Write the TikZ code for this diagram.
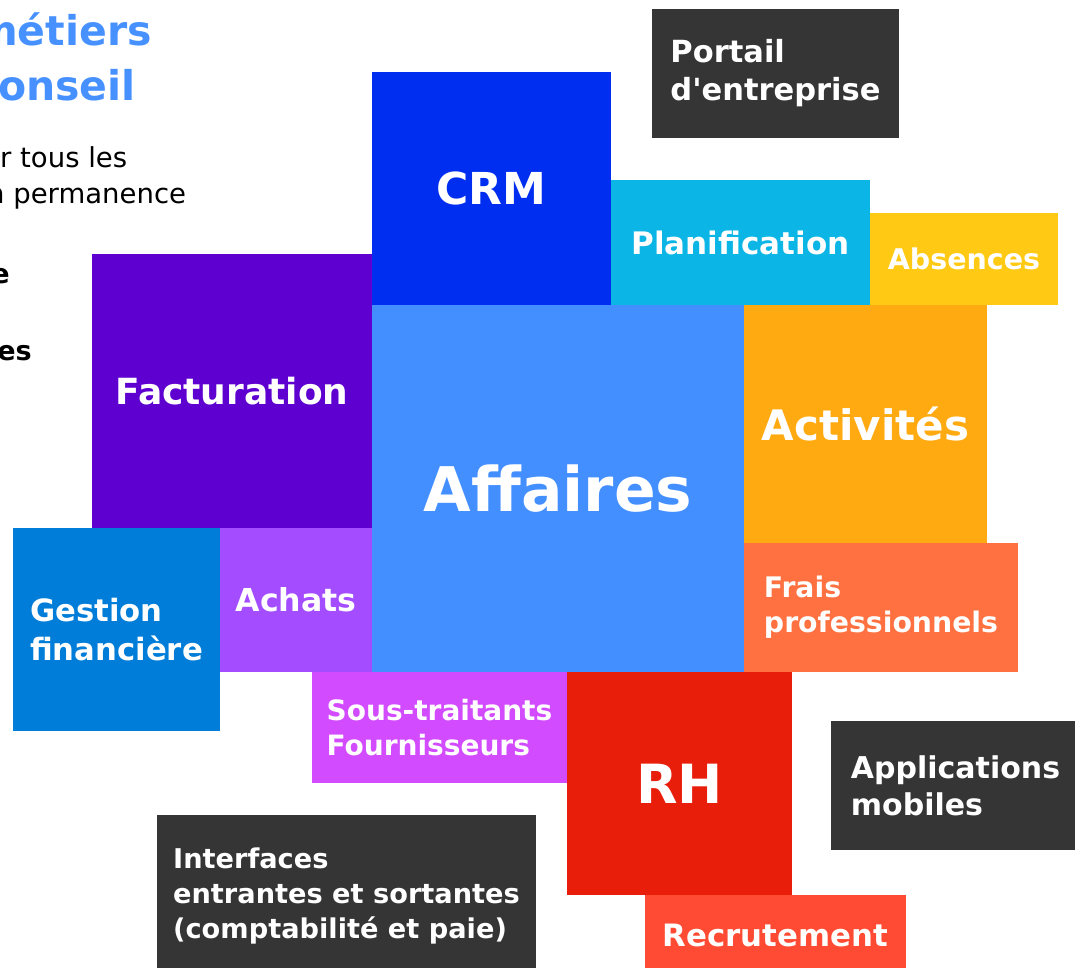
\documentclass[tikz,border=0pt]{standalone}
\usepackage{fontspec}
\setmainfont{DejaVu Sans}
\usepackage{tikz}

\definecolor{titleblue}{RGB}{70,145,255}
\definecolor{crmblue}{RGB}{0,46,240}
\definecolor{planifcyan}{RGB}{11,181,230}
\definecolor{absyellow}{RGB}{255,201,20}
\definecolor{darkgrey}{RGB}{53,53,53}
\definecolor{factuviolet}{RGB}{94,0,208}
\definecolor{affblue}{RGB}{68,143,255}
\definecolor{actorange}{RGB}{255,170,17}
\definecolor{fraisorange}{RGB}{255,113,64}
\definecolor{gestblue}{RGB}{0,125,216}
\definecolor{achatsviolet}{RGB}{164,76,255}
\definecolor{sousmagenta}{RGB}{210,75,255}
\definecolor{rhred}{RGB}{232,30,10}
\definecolor{recrutred}{RGB}{255,75,51}

\newcommand{\fsz}[2]{\fontsize{#1}{#2}\selectfont}

\tikzset{
  tile/.style={rectangle, inner sep=0pt, outer sep=0pt, text=white,
               font=\bfseries, align=left},
  sidetext/.style={inner sep=0pt, anchor=base west}
}

\begin{document}
\begin{tikzpicture}[x=1pt,y={(0pt,-1pt)}]
  \clip (0,0) rectangle (1075,967);

  % text on the left
  \draw (-25,45)  node (title1) [sidetext, text=titleblue, font=\bfseries\fsz{41}{48}] {métiers};
  \draw (-2,100)  node (title2) [sidetext, text=titleblue, font=\bfseries\fsz{41}{48}] {onseil};
  \draw (0,167)   node (line1)  [sidetext, font=\fsz{27.5}{32}] {r tous les};
  \draw (-13,203) node (line2)  [sidetext, font=\fsz{27.5}{32}] {n permanence};
  \draw (10,283)  node (line3)  [sidetext, anchor=base east, font=\bfseries\fsz{27}{32}] {e};
  \draw (32,360)  node (line4)  [sidetext, anchor=base east, font=\bfseries\fsz{27}{32}] {es};

  \draw (775.5,73.5) node (portail)  [tile, fill=darkgrey, minimum width=247pt, minimum height=129pt, font=\bfseries\fsz{30.5}{38}] {Portail\\d\textquotesingle entreprise};
  \draw (491.5,188.5) node (crm)     [tile, fill=crmblue, minimum width=239pt, minimum height=233pt, font=\bfseries\fsz{44}{52}] {CRM};
  \draw (740.5,242.5) node (planif)  [tile, fill=planifcyan, minimum width=259pt, minimum height=125pt, font=\bfseries\fsz{31}{36}] {Planification};
  \draw (964,259)     node (absences) [tile, fill=absyellow, minimum width=188pt, minimum height=92pt, font=\bfseries\fsz{28.5}{34}] {Absences};
  \draw (232,391)     node (factu)   [tile, fill=factuviolet, minimum width=280pt, minimum height=274pt, font=\bfseries\fsz{36}{42}] {Facturation};
  \draw (558,488.5)   node (affaires) [tile, fill=affblue, minimum width=372pt, minimum height=367pt, font=\bfseries\fsz{61.5}{70}] {Affaires};
  \draw (865.5,424)   node (activites) [tile, fill=actorange, minimum width=243pt, minimum height=238pt, font=\bfseries\fsz{42}{50}] {Activités};
  \draw (881,607.5)   node (frais)   [tile, fill=fraisorange, minimum width=274pt, minimum height=129pt, font=\bfseries\fsz{28.3}{35}] {Frais\\professionnels};
  \draw (116.5,629.5) node (gestion) [tile, fill=gestblue, minimum width=207pt, minimum height=203pt, font=\bfseries\fsz{30.7}{39}] {Gestion\\financière};
  \draw (296,600)     node (achats)  [tile, fill=achatsviolet, minimum width=152pt, minimum height=144pt, font=\bfseries\fsz{31.6}{38}] {Achats};
  \draw (439.5,727.5) node (sous)    [tile, fill=sousmagenta, minimum width=255pt, minimum height=111pt, font=\bfseries\fsz{28}{35}] {Sous-traitants\\Fournisseurs};
  \draw (679.5,783.5) node (rh)      [tile, fill=rhred, minimum width=225pt, minimum height=223pt, font=\bfseries\fsz{54}{62}] {RH};
  \draw (775.5,935)   node (recrut)  [tile, fill=recrutred, minimum width=261pt, minimum height=80pt, font=\bfseries\fsz{30.8}{36}] {Recrutement};
  \draw (955.5,785.5) node (mobiles) [tile, fill=darkgrey, minimum width=249pt, minimum height=129pt, font=\bfseries\fsz{30}{37}] {Applications\\mobiles};
  \draw (346.5,896)   node (interfaces) [tile, fill=darkgrey, minimum width=379pt, minimum height=162pt, font=\bfseries\fsz{27.2}{35}] {Interfaces\\entrantes et sortantes\\(comptabilité et paie)};
\end{tikzpicture}
\end{document}
